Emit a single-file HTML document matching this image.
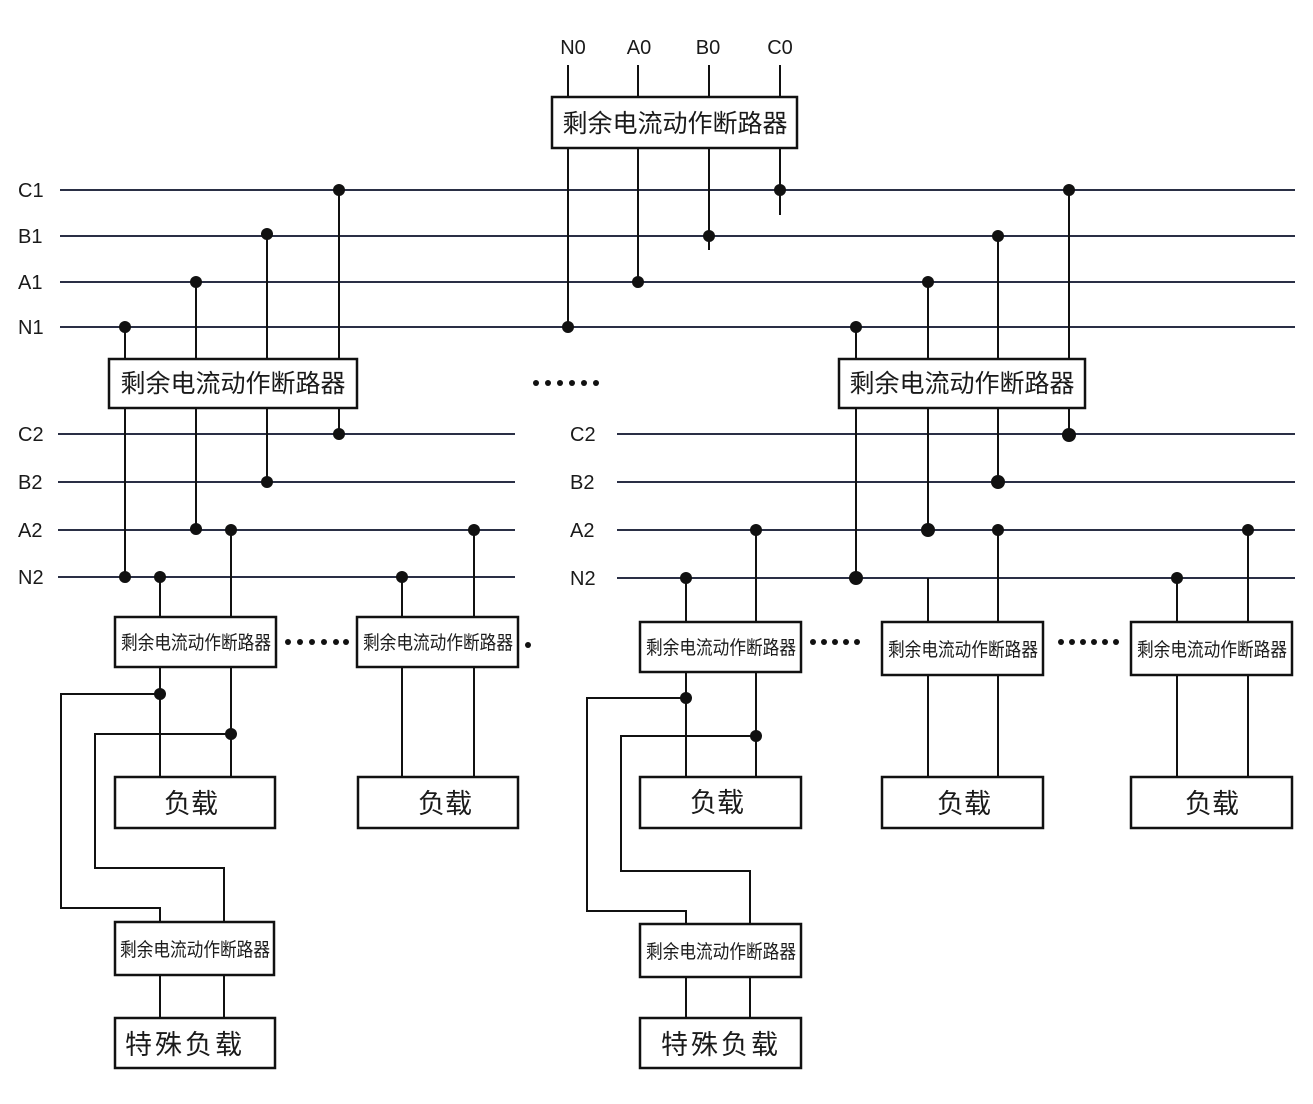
<!DOCTYPE html>
<html><head><meta charset="utf-8"><style>
html,body{margin:0;padding:0;background:#fff;}
svg{display:block}
text{font-family:"Liberation Sans","Noto Sans CJK SC",sans-serif;fill:#1a1a1a}
.l{stroke:#2a2f45;stroke-width:2;fill:none}
.w{stroke:#111;stroke-width:2;fill:none}
.b{stroke:#111;stroke-width:2.5;fill:#fff}
.lab{font-size:20px}
.big{font-size:25px}
.sm{font-size:19px}
.ld{font-size:27px}
</style></head><body>
<svg width="1313" height="1104" viewBox="0 0 1313 1104" xmlns="http://www.w3.org/2000/svg">
<!-- top labels -->
<g class="lab" text-anchor="middle">
<text x="573" y="54">N0</text><text x="639" y="54">A0</text><text x="708" y="54">B0</text><text x="780" y="54">C0</text>
</g>
<!-- main buses -->
<g class="l">
<line x1="60" y1="190" x2="1295" y2="190"/>
<line x1="60" y1="236" x2="1295" y2="236"/>
<line x1="60" y1="282" x2="1295" y2="282"/>
<line x1="60" y1="327" x2="1295" y2="327"/>
<line x1="58" y1="434" x2="515" y2="434"/>
<line x1="58" y1="482" x2="515" y2="482"/>
<line x1="58" y1="530" x2="515" y2="530"/>
<line x1="58" y1="577" x2="515" y2="577"/>
<line x1="617" y1="434" x2="1295" y2="434"/>
<line x1="617" y1="482" x2="1295" y2="482"/>
<line x1="617" y1="530" x2="1295" y2="530"/>
<line x1="617" y1="578" x2="1295" y2="578"/>
</g>
<g class="lab">
<text x="18" y="197">C1</text><text x="18" y="243">B1</text><text x="18" y="289">A1</text><text x="18" y="334">N1</text>
<text x="18" y="441">C2</text><text x="18" y="489">B2</text><text x="18" y="537">A2</text><text x="18" y="584">N2</text>
<text x="570" y="441">C2</text><text x="570" y="489">B2</text><text x="570" y="537">A2</text><text x="570" y="585">N2</text>
</g>
<!-- wires -->
<g class="w">
<!-- top -->
<line x1="568" y1="65" x2="568" y2="327"/><line x1="638" y1="65" x2="638" y2="282"/>
<line x1="709" y1="65" x2="709" y2="250"/><line x1="780" y1="65" x2="780" y2="215"/>
<!-- left main -->
<line x1="125" y1="327" x2="125" y2="577"/><line x1="196" y1="282" x2="196" y2="530"/>
<line x1="267" y1="234" x2="267" y2="482"/><line x1="339" y1="190" x2="339" y2="434"/>
<!-- right main -->
<line x1="856" y1="327" x2="856" y2="578"/><line x1="928" y1="282" x2="928" y2="530"/>
<line x1="998" y1="236" x2="998" y2="482"/><line x1="1069" y1="190" x2="1069" y2="434"/>
<!-- left branch 1 -->
<line x1="160" y1="577" x2="160" y2="777"/><line x1="231" y1="530" x2="231" y2="777"/>
<polyline points="160,694 61,694 61,908 160,908 160,922"/>
<polyline points="231,734 95,734 95,868 224,868 224,922"/>
<line x1="160" y1="975" x2="160" y2="1018"/><line x1="224" y1="975" x2="224" y2="1018"/>
<!-- left branch 2 -->
<line x1="402" y1="577" x2="402" y2="777"/><line x1="474" y1="530" x2="474" y2="777"/>
<!-- right branch 1 -->
<line x1="686" y1="578" x2="686" y2="777"/><line x1="756" y1="530" x2="756" y2="777"/>
<polyline points="686,698 587,698 587,911 686,911 686,924"/>
<polyline points="756,736 621,736 621,871 750,871 750,924"/>
<line x1="686" y1="977" x2="686" y2="1018"/><line x1="750" y1="977" x2="750" y2="1018"/>
<!-- right branch 2,3 -->
<line x1="928" y1="578" x2="928" y2="777"/><line x1="998" y1="530" x2="998" y2="777"/>
<line x1="1177" y1="578" x2="1177" y2="777"/><line x1="1248" y1="530" x2="1248" y2="777"/>
</g>
<!-- dots -->
<g fill="#111">
<circle cx="568" cy="327" r="6"/><circle cx="638" cy="282" r="6"/><circle cx="709" cy="236" r="6"/><circle cx="780" cy="190" r="6"/>
<circle cx="125" cy="327" r="6"/><circle cx="196" cy="282" r="6"/><circle cx="267" cy="234" r="6"/><circle cx="339" cy="190" r="6"/>
<circle cx="339" cy="434" r="6"/><circle cx="267" cy="482" r="6"/><circle cx="196" cy="529" r="6"/><circle cx="125" cy="577" r="6"/>
<circle cx="856" cy="327" r="6"/><circle cx="928" cy="282" r="6"/><circle cx="998" cy="236" r="6"/><circle cx="1069" cy="190" r="6"/>
<circle cx="1069" cy="435" r="7"/><circle cx="998" cy="482" r="7"/><circle cx="928" cy="530" r="7"/><circle cx="856" cy="578" r="7"/>
<circle cx="160" cy="577" r="6"/><circle cx="231" cy="530" r="6"/><circle cx="402" cy="577" r="6"/><circle cx="474" cy="530" r="6"/>
<circle cx="160" cy="694" r="6"/><circle cx="231" cy="734" r="6"/>
<circle cx="686" cy="578" r="6"/><circle cx="756" cy="530" r="6"/><circle cx="686" cy="698" r="6"/><circle cx="756" cy="736" r="6"/>
<circle cx="998" cy="530" r="6"/><circle cx="1177" cy="578" r="6"/><circle cx="1248" cy="530" r="6"/>
<!-- ellipsis dots -->
<g><circle cx="536" cy="383" r="3"/><circle cx="548" cy="383" r="3"/><circle cx="560" cy="383" r="3"/><circle cx="572" cy="383" r="3"/><circle cx="584" cy="383" r="3"/><circle cx="596" cy="383" r="3"/></g>
<g><circle cx="288" cy="642" r="3"/><circle cx="300" cy="642" r="3"/><circle cx="312" cy="642" r="3"/><circle cx="324" cy="642" r="3"/><circle cx="336" cy="642" r="3"/><circle cx="346" cy="642" r="3"/><circle cx="528" cy="645" r="3"/></g>
<g><circle cx="813" cy="642" r="3"/><circle cx="824" cy="642" r="3"/><circle cx="835" cy="642" r="3"/><circle cx="846" cy="642" r="3"/><circle cx="857" cy="642" r="3"/></g>
<g><circle cx="1061" cy="642" r="3"/><circle cx="1072" cy="642" r="3"/><circle cx="1083" cy="642" r="3"/><circle cx="1094" cy="642" r="3"/><circle cx="1105" cy="642" r="3"/><circle cx="1116" cy="642" r="3"/></g>
</g>
<!-- boxes -->
<g class="b">
<rect x="552" y="97" width="245" height="51"/>
<rect x="109" y="359" width="248" height="49"/>
<rect x="839" y="359" width="246" height="49"/>
<rect x="115" y="617" width="161" height="50"/>
<rect x="357" y="617" width="161" height="50"/>
<rect x="640" y="622" width="161" height="50"/>
<rect x="882" y="622" width="161" height="53"/>
<rect x="1131" y="622" width="161" height="53"/>
<rect x="115" y="777" width="160" height="51"/>
<rect x="358" y="777" width="160" height="51"/>
<rect x="640" y="777" width="161" height="51"/>
<rect x="882" y="777" width="161" height="51"/>
<rect x="1131" y="777" width="161" height="51"/>
<rect x="115" y="922" width="159" height="53"/>
<rect x="640" y="924" width="161" height="53"/>
<rect x="115" y="1018" width="160" height="50"/>
<rect x="640" y="1018" width="161" height="50"/>
</g>
<g text-anchor="middle">
<text class="big" x="675" y="132">剩余电流动作断路器</text>
<text class="big" x="233" y="392">剩余电流动作断路器</text>
<text class="big" x="962" y="392">剩余电流动作断路器</text>
<text class="sm" x="196" y="649" textLength="150" lengthAdjust="spacingAndGlyphs">剩余电流动作断路器</text>
<text class="sm" x="438" y="649" textLength="150" lengthAdjust="spacingAndGlyphs">剩余电流动作断路器</text>
<text class="sm" x="721" y="654" textLength="150" lengthAdjust="spacingAndGlyphs">剩余电流动作断路器</text>
<text class="sm" x="963" y="656" textLength="150" lengthAdjust="spacingAndGlyphs">剩余电流动作断路器</text>
<text class="sm" x="1212" y="656" textLength="150" lengthAdjust="spacingAndGlyphs">剩余电流动作断路器</text>
<text class="sm" x="195" y="956" textLength="150" lengthAdjust="spacingAndGlyphs">剩余电流动作断路器</text>
<text class="sm" x="721" y="958" textLength="150" lengthAdjust="spacingAndGlyphs">剩余电流动作断路器</text>
<text class="ld" x="191" y="813">负载</text>
<text class="ld" x="445" y="813">负载</text>
<text class="ld" x="717" y="812">负载</text>
<text class="ld" x="964" y="813">负载</text>
<text class="ld" x="1212" y="813">负载</text>
<text class="ld" x="185" y="1054" letter-spacing="3">特殊负载</text>
<text class="ld" x="721" y="1054" letter-spacing="3">特殊负载</text>
</g>
</svg>
</body></html>
